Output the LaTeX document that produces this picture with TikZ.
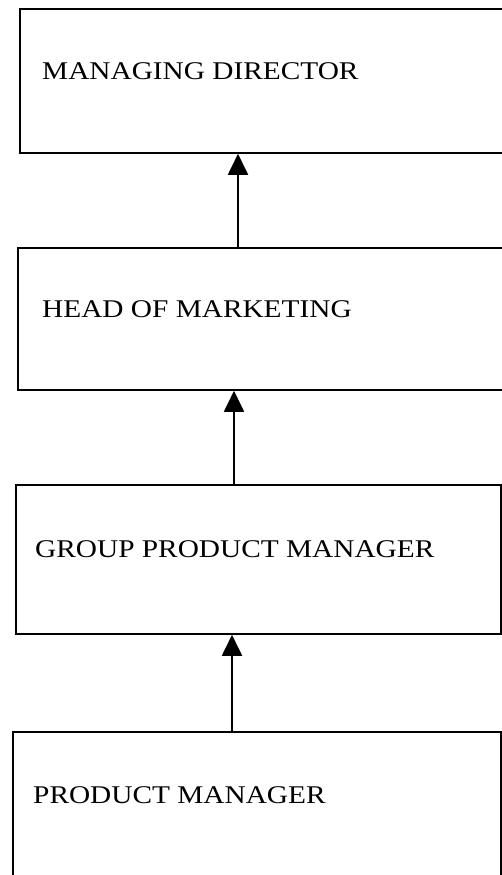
\documentclass[tikz,border=0pt]{standalone}
\usepackage{fontspec}
\setmainfont{Liberation Serif}[FakeStretch=1.15]
\usetikzlibrary{arrows.meta}
\tikzset{
  box/.style={draw=black, line width=1.8pt, rectangle, inner sep=0pt, anchor=north west},
  lbl/.style={anchor=base west, inner sep=0pt, font=\fontsize{25.5}{28}\selectfont},
  arr/.style={line width=1.9pt, -{Triangle[width=20pt,length=21pt]}}
}
\begin{document}
\begin{tikzpicture}[x=1pt,y=1pt]
\fill[white] (0,0) rectangle (501,875);
\useasboundingbox (0,0) rectangle (501,875);
% boxes (y measured from top: Y = 875 - y)
\node[box, minimum width=490pt, minimum height=144pt] (b1) at (19,867) {};
\node[box, minimum width=490pt, minimum height=142pt] (b2) at (17,628) {};
\node[box, minimum width=485pt, minimum height=149pt] (b3) at (15,391) {};
\node[box, minimum width=488pt, minimum height=160pt] (b4) at (12,144) {};
% labels
\node[lbl] (t1) at (42,795) {MANAGING DIRECTOR};
\node[lbl] (t2) at (42,557) {HEAD OF MARKETING};
\node[lbl] (t3) at (35,317) {GROUP PRODUCT MANAGER};
\node[lbl] (t4) at (33,71) {PRODUCT MANAGER};
% connector x positions
\coordinate (x1) at (238,0);
\coordinate (x2) at (234,0);
\coordinate (x3) at (232,0);
\draw[arr] (b2.north -| x1) -- (b1.south -| x1);
\draw[arr] (b3.north -| x2) -- (b2.south -| x2);
\draw[arr] (b4.north -| x3) -- (b3.south -| x3);
\end{tikzpicture}
\end{document}
